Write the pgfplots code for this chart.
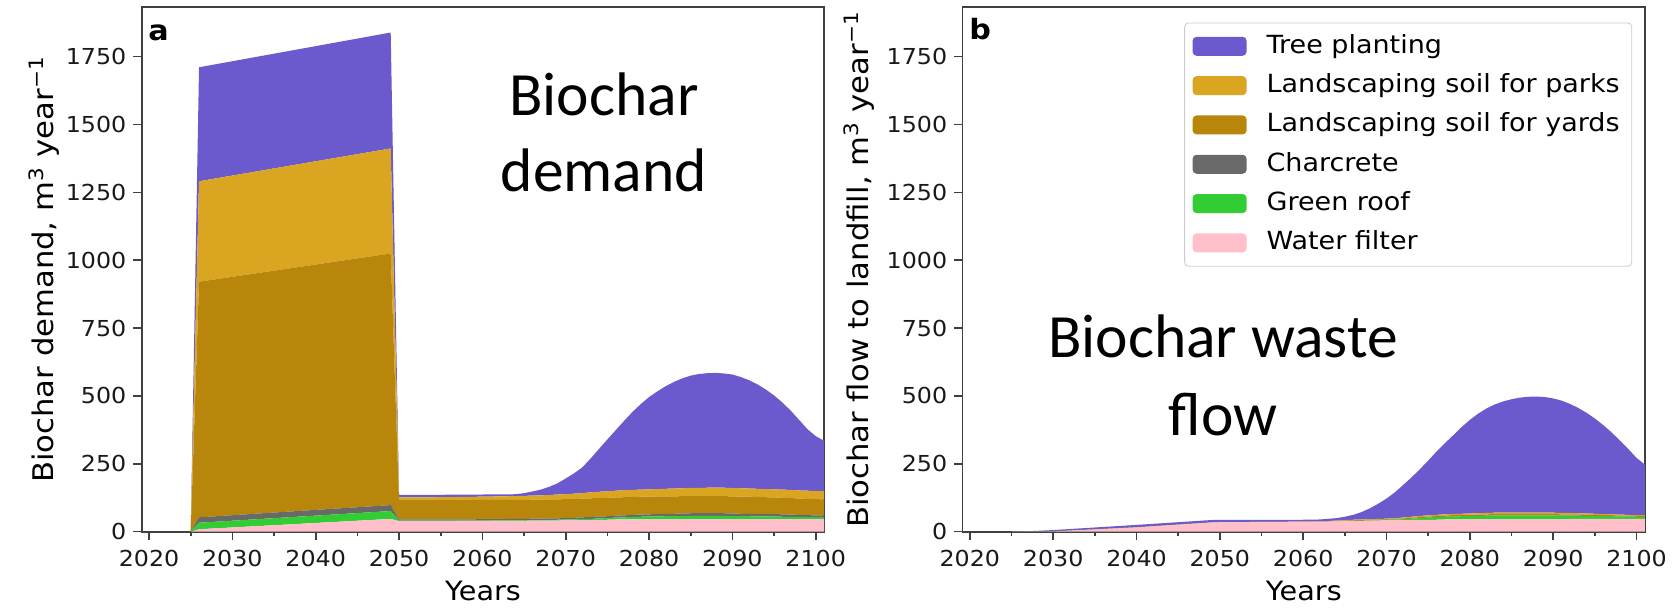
\documentclass[border=0pt]{standalone}
\usepackage{fontspec}
\setmainfont{DejaVu Sans}[FakeStretch=1.08]
\newfontfamily\carlito{Carlito}
\usepackage{pgfplots}
\usepackage{pgfplotstable}
\pgfplotsset{compat=1.18}

\definecolor{tree}{HTML}{6A5ACD}
\definecolor{parks}{HTML}{DAA520}
\definecolor{yards}{HTML}{B8860B}
\definecolor{charc}{HTML}{696969}
\definecolor{groof}{HTML}{32CD32}
\definecolor{wfilt}{HTML}{FFC0CB}

% layer thicknesses (stacked), m3/year
\pgfplotstableread{
x pink green gray yards parks tree
2025 0 0 0 0 0 0
2026 9 24 20 868 370 420
2049 47 29 22 927 387 427
2050 39 2 4 71 10 10
2055 39 2 4 71 11 9
2060 40 1 5 71 12 8
2064 40 2 5 70 14 7
2065 40 2 5 70 15 10
2066 41 2 5 70 15 15
2067 41 2 5 70 16 21
2068 41 3 5 70 16 30
2069 41 3 5 70 18 41
2070 42 3 6 69 18 58
2071 42 3 6 69 20 75
2072 43 4 6 69 20 95
2073 43 4 7 69 22 125
2074 44 5 7 68 23 158
2075 44 6 7 68 24 191
2076 45 7 7 67 25 223
2077 45 8 7 67 26 255
2078 45 9 8 66 26 287
2079 45 10 8 66 26 315
2080 46 10 8 65 27 340
2081 46 10 9 65 27 360
2082 46 11 9 64 28 378
2083 46 11 9 64 29 393
2084 46 12 9 64 29 405
2085 46 12 10 63 30 414
2086 46 12 10 63 30 420
2087 46 12 10 63 31 422
2088 46 12 10 63 31 423
2089 46 12 10 63 31 421
2090 46 12 9 63 31 418
2091 46 11 9 63 31 410
2092 46 11 9 63 30 399
2093 46 10 9 63 30 385
2094 46 10 9 62 30 367
2095 46 10 9 61 30 346
2096 46 9 9 61 30 321
2097 46 9 8 61 30 292
2098 46 9 7 60 30 260
2099 46 8 7 60 30 227
2100 46 8 6 60 30 202
2101 46 8 6 59 30 186
}\demand

\pgfplotstableread{
x pink green gray yards parks tree
2025 0 0 0 0 0 0
2028 0 0 0 0 0 3
2030 1 0 0 0 0 5
2040 16 0 0 0 0 9
2049 34 0 0 0 0 9
2050 35 0 0 0 0 9
2060 37 0 0 0 0 7
2062 37 0 0 1 0 7
2064 38 0 0 2 1 9
2065 39 0 0 2 2 12
2066 40 0 0 2 2 18
2067 40 0 0 3 2 27
2068 41 0 0 3 2 40
2069 41 1 0 3 2 56
2070 42 2 0 2 2 74
2071 42 3 0 3 2 95
2072 43 3 0 3 3 120
2073 43 5 0 3 4 145
2074 44 6 0 4 4 172
2075 44 8 0 4 4 202
2076 44 10 0 4 4 233
2077 45 10 0 5 4 262
2078 45 11 0 5 4 290
2079 45 12 0 5 4 319
2080 45 13 0 5 4 345
2081 46 12 0 5 5 367
2082 46 13 0 5 5 385
2083 46 14 0 5 5 399
2084 46 14 0 5 5 410
2085 46 14 0 5 5 418
2086 46 14 0 5 5 424
2087 46 14 0 5 5 427
2088 46 14 0 5 5 428
2089 46 14 0 5 5 426
2090 46 14 0 5 5 421
2091 46 13 0 5 5 414
2092 47 12 0 5 5 402
2093 47 12 0 5 4 388
2094 47 11 0 5 4 371
2095 47 11 0 4 4 351
2096 47 10 0 4 4 328
2097 47 10 0 4 3 302
2098 47 9 0 4 3 273
2099 47 9 0 3 3 243
2100 47 8 0 3 3 211
2101 47 8 0 3 3 186
}\waste

\pgfplotsset{
  panel/.style={
    scale only axis, width=341.3pt, height=262.2pt,
    xmin=2019.12, xmax=2101.03, ymin=0, ymax=1932,
    xtick={2020,2030,...,2100}, minor x tick num=1,
    ytick={0,250,...,1750},
    tick align=outside, tick pos=left,
    major tick length=4.15pt, minor tick length=2.2pt,
    axis line style={black!75, line width=0.9pt},
    tick style={black!75, line width=0.8pt},
    stack plots=y,
    /pgf/number format/assume math mode=true,
    /pgf/number format/1000 sep={},
    scaled ticks=false,
    tick label style={font=\fontsize{11}{13}\selectfont, black!90},
    xticklabel style={anchor=base, yshift=-13.45pt},
    yticklabel style={anchor=east},
    xlabel={Years},
    xlabel style={font=\fontsize{13.3}{15}\selectfont, at={(axis description cs:0.5,0)}, anchor=base, yshift=-34.65pt},
    ylabel style={font=\fontsize{14.2}{16}\selectfont, anchor=center},
  }
}

\begin{document}
\begin{tikzpicture}
\useasboundingbox (0,0) rectangle (837.5pt,304pt);

\begin{axis}[panel, at={(70.85pt,38.15pt)}, anchor=south west,
  ylabel={Biochar demand, m\textsuperscript{3} year\textsuperscript{−1}},
  ylabel style={at={(axis description cs:-0.143,0.5)}}]
\addplot[fill=wfilt, draw=none] table[x=x, y=pink] {\demand} \closedcycle;
\addplot[fill=groof, draw=none] table[x=x, y=green] {\demand} \closedcycle;
\addplot[fill=charc, draw=none] table[x=x, y=gray] {\demand} \closedcycle;
\addplot[fill=yards, draw=none] table[x=x, y=yards] {\demand} \closedcycle;
\addplot[fill=parks, draw=none] table[x=x, y=parks] {\demand} \closedcycle;
\addplot[fill=tree, draw=none] table[x=x, y=tree] {\demand} \closedcycle;
\node[anchor=base west, inner sep=0pt, font=\bfseries\fontsize{14}{16}\selectfont] at (rel axis cs:0.0092,0.9376) {a};
\end{axis}

\begin{axis}[panel, at={(481.25pt,38.15pt)}, anchor=south west,
  ylabel={Biochar flow to landfill, m\textsuperscript{3} year\textsuperscript{−1}},
  ylabel style={at={(axis description cs:-0.1516,0.5)}},
  reverse legend,
  legend image code/.code={\fill[#1] (0pt,-4.75pt) rectangle (27pt,4.75pt); \path (35pt,0pt);},
  legend style={at={(0.981,0.971)}, anchor=north east, draw=black!20, rounded corners=2pt,
    fill=white, font=\fontsize{12.5}{14}\selectfont, cells={anchor=west},
    row sep=2.66pt, inner xsep=4pt, inner ysep=3.2pt,
    nodes={inner sep=2pt, text height=10pt, text depth=3pt}}]
\addplot[fill=wfilt, draw=none] table[x=x, y=pink] {\waste} \closedcycle;
\addlegendentry{Water filter}
\addplot[fill=groof, draw=none] table[x=x, y=green] {\waste} \closedcycle;
\addlegendentry{Green roof}
\addplot[fill=charc, draw=none] table[x=x, y=gray] {\waste} \closedcycle;
\addlegendentry{Charcrete}
\addplot[fill=yards, draw=none] table[x=x, y=yards] {\waste} \closedcycle;
\addlegendentry{Landscaping soil for yards}
\addplot[fill=parks, draw=none] table[x=x, y=parks] {\waste} \closedcycle;
\addlegendentry{Landscaping soil for parks}
\addplot[fill=tree, draw=none] table[x=x, y=tree] {\waste} \closedcycle;
\addlegendentry{Tree planting}
\node[anchor=base west, inner sep=0pt, font=\bfseries\fontsize{14}{16}\selectfont] at (rel axis cs:0.0095,0.9395) {b};
\end{axis}

\node[anchor=base, font=\carlito\fontsize{30.75}{37}\selectfont] at (302pt,246pt) {Biochar};
\node[anchor=base, font=\carlito\fontsize{30.75}{37}\selectfont] at (302pt,208.2pt) {demand};
\node[anchor=base, font=\carlito\fontsize{30.75}{37}\selectfont] at (611.5pt,125pt) {Biochar waste};
\node[anchor=base, font=\carlito\fontsize{30.75}{37}\selectfont] at (611.5pt,86.25pt) {flow};
\end{tikzpicture}
\end{document}
